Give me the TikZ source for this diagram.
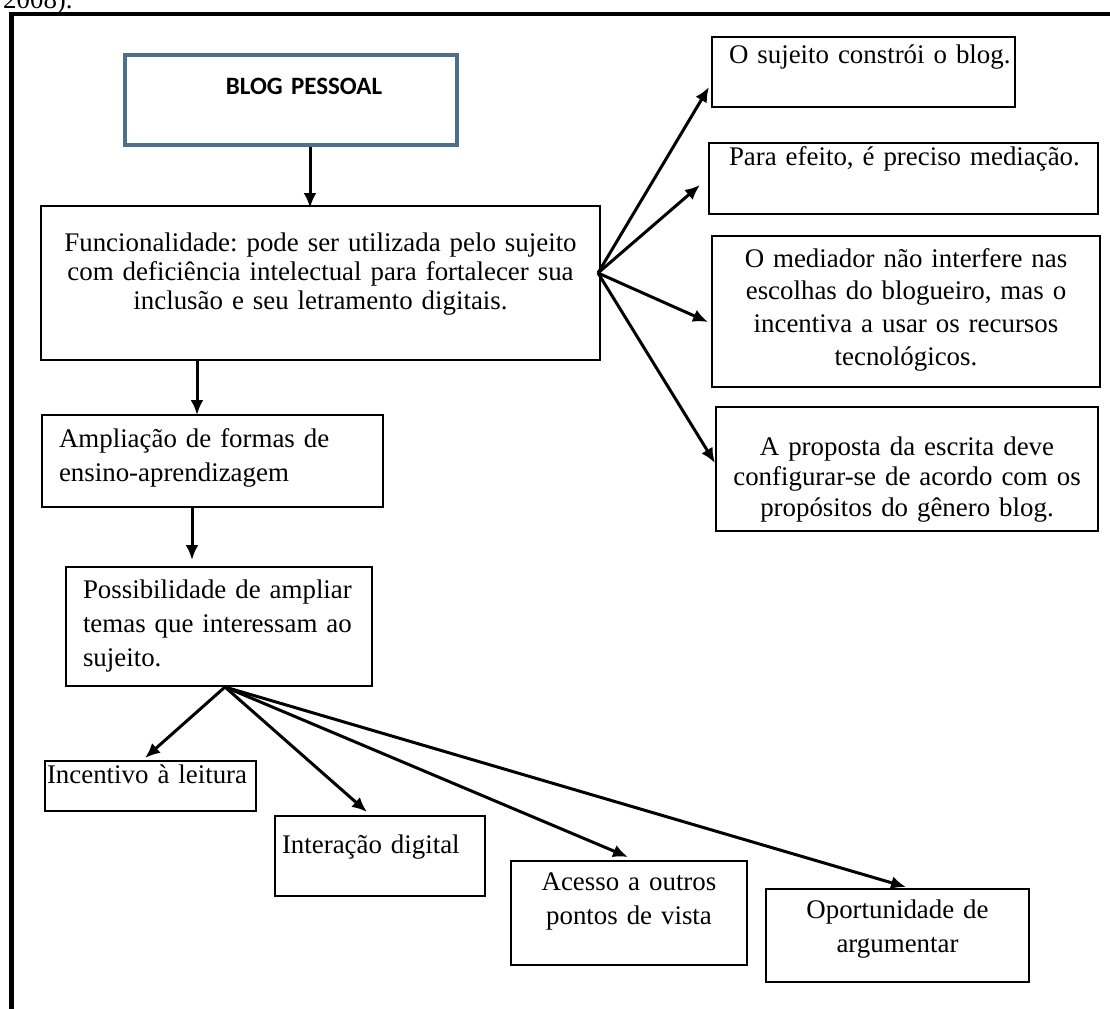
\documentclass[tikz,border=0pt]{standalone}
\usepackage{fontspec}
\setmainfont{Liberation Serif}
\newfontfamily\blogfont{Carlito}
\usetikzlibrary{arrows.meta}
\frenchspacing
\newlength{\pxu}
\setlength{\pxu}{0.2mm}
\newcommand{\corpo}[1]{\fontsize{15.3pt}{#1}\selectfont}
\definecolor{blogazul}{RGB}{79,110,140}

\begin{document}
\begin{tikzpicture}[x=0.2mm, y=-0.2mm, >={Latex[length=3mm,width=2.6mm]},
    caixa/.style={draw, line width=0.35mm, anchor=north west, inner ysep=0pt, outer sep=0pt},
    seta/.style={->, line width=0.6mm}]
    \useasboundingbox (0,0) rectangle (1110,1008);

    % Outer frame (cut at the right and bottom)
    \draw[line width=0.9mm] (11.5,1020) -- (11.5,14) -- (1120,14);
    \node[anchor=base west, font=\corpo{19pt}] (ano) at (-3,8) {2008).};

    % Top box
    \node[caixa, draw=blogazul, line width=0.8mm, inner xsep=0pt, text width=332\pxu, align=center,
        text height=39\pxu, text depth=51\pxu, font=\blogfont\bfseries\fontsize{14.2pt}{17pt}\selectfont]
        (blog) at (125,55) {\hspace*{26\pxu}BLOG PESSOAL};

    % Left chain
    \node[caixa, inner xsep=6\pxu, text width=547\pxu, align=center, text height=45\pxu, text depth=109\pxu,
        font=\corpo{16.5pt}] (func) at (41,206)
        {Funcionalidade: pode ser utilizada pelo sujeito\\ com deficiência intelectual para fortalecer sua\\ inclusão e seu letramento digitais.};
    \node[caixa, inner xsep=17\pxu, text width=307\pxu, align=left, text height=32\pxu, text depth=60\pxu,
        font=\corpo{19.9pt}] (ampl) at (42,415) {Ampliação de formas de\\ ensino-aprendizagem};
    \node[caixa, inner xsep=6\pxu, text width=294\pxu, align=left, text height=31\pxu, text depth=88\pxu,
        font=\corpo{19.6pt}] (poss) at (66,567)
        {\hspace*{11\pxu}Possibilidade de ampliar\\ \hspace*{11\pxu}temas que interessam ao\\ \hspace*{11\pxu}sujeito.};

    % Right column
    \node[caixa, inner xsep=4\pxu, text width=295\pxu, align=left, text height=26\pxu, text depth=44\pxu,
        font=\corpo{19pt}] (b1) at (712,37) {\hspace*{13\pxu}O sujeito constrói o blog.};
    \node[caixa, inner xsep=6\pxu, text width=377\pxu, align=left, text height=22\pxu, text depth=49\pxu,
        font=\corpo{19pt}] (b2) at (709,143) {\hspace*{14\pxu}Para efeito, é preciso mediação.};
    \node[caixa, inner xsep=8\pxu, text width=372\pxu, align=center, text height=31\pxu, text depth=120\pxu,
        font=\corpo{18.6pt}] (b3) at (712,236)
        {O mediador não interfere nas\\ escolhas do blogueiro, mas o\\ incentiva a usar os recursos\\ tecnológicos.};
    \node[caixa, inner xsep=5\pxu, text width=372\pxu, align=center, text height=48\pxu, text depth=76\pxu,
        font=\corpo{17.6pt}] (b4) at (716,407)
        {A proposta da escrita deve\\ configurar-se de acordo com os\\ propósitos do gênero blog.};

    % Bottom row
    \node[caixa, inner xsep=2\pxu, text width=207\pxu, align=left, text height=22\pxu, text depth=28\pxu,
        font=\corpo{19pt}] (inc) at (45,761) {Incentivo à leitura};
    \node[caixa, inner xsep=7\pxu, text width=196\pxu, align=left, text height=37\pxu, text depth=43\pxu,
        font=\corpo{19pt}] (inter) at (275,816) {Interação digital};
    \node[caixa, inner xsep=5\pxu, text width=226\pxu, align=center, text height=29\pxu, text depth=75\pxu,
        font=\corpo{19.9pt}] (ace) at (511,861) {Acesso a outros\\ pontos de vista};
    \node[caixa, inner xsep=5\pxu, text width=253\pxu, align=center, text height=29\pxu, text depth=64\pxu,
        font=\corpo{19.9pt}] (opo) at (766,889) {Oportunidade de\\ argumentar};

    % Arrows down the left side
    \draw[seta] ([shift={(19,2)}]blog.south) -- ([shift={(19,2)}]blog.south |- func.north);
    \draw[seta] ([xshift=-15.5\pxu]ampl.north |- func.south) -- ([xshift=-15.5\pxu]ampl.north);
    \draw[seta] ([xshift=-27\pxu]poss.north |- ampl.south) -- ([shift={(-27,-7)}]poss.north);

    % Fan to the right
    \coordinate (fd) at ([shift={(-2,-10)}]func.east);
    \draw[seta] (fd) -- ([shift={(-3,15)}]b1.west);
    \draw[seta] (fd) -- ([shift={(-9,6.5)}]b2.west);
    \draw[seta] (fd) -- ([shift={(-4,10.5)}]b3.west);
    \draw[seta] (fd) -- ([shift={(-1,-6)}]b4.west);

    % Fan to the bottom
    \coordinate (fb) at ([shift={(6,1)}]poss.south);
    \draw[seta] (fb) -- ([shift={(-5.5,-3)}]inc.north);
    \draw[seta] (fb) -- ([shift={(-13,-4)}]inter.north);
    \draw[seta] (fb) -- ([shift={(-1,-4)}]ace.north);
    \draw[seta] (fb) -- ([shift={(8.5,-2)}]opo.north);
\end{tikzpicture}
\end{document}
